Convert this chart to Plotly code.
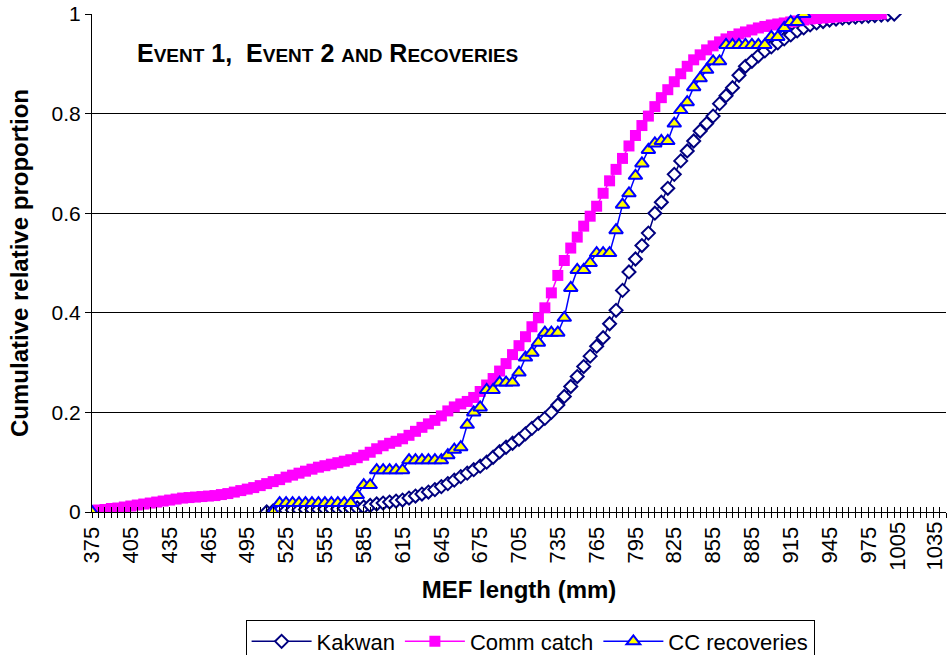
import plotly.graph_objects as go

# ---------------- data ----------------
categories = list(range(375, 1040, 5))  # MEF length categories (mm), 375..1035
tick_labels = ["375", "405", "435", "465", "495", "525", "555", "585", "615", "645",
               "675", "705", "735", "765", "795", "825", "855", "885", "915", "945",
               "975", "1005", "1035"]

kakwan_start = 510
kakwan = [0.000, 0.002, 0.003, 0.003, 0.004, 0.004, 0.005, 0.005, 0.005, 0.006,
          0.006, 0.006, 0.007, 0.007, 0.008, 0.010, 0.013, 0.016, 0.018, 0.020,
          0.022, 0.024, 0.028, 0.032, 0.036, 0.040, 0.045, 0.051, 0.057, 0.064,
          0.071, 0.078, 0.085, 0.092, 0.100, 0.110, 0.121, 0.130, 0.138, 0.146,
          0.157, 0.168, 0.178, 0.188, 0.200, 0.215, 0.232, 0.252, 0.272, 0.292,
          0.313, 0.333, 0.350, 0.378, 0.405, 0.445, 0.482, 0.508, 0.535, 0.560,
          0.600, 0.622, 0.650, 0.678, 0.705, 0.725, 0.745, 0.765, 0.780, 0.795,
          0.820, 0.836, 0.852, 0.877, 0.895, 0.905, 0.916, 0.926, 0.934, 0.942,
          0.950, 0.958, 0.966, 0.972, 0.978, 0.982, 0.985, 0.988, 0.990, 0.992,
          0.993, 0.994, 0.995, 0.996, 0.997, 0.998, 0.999, 1.000]

comm_start = 375
comm_catch = [0.002, 0.004, 0.005, 0.007, 0.008, 0.010, 0.012, 0.014, 0.016, 0.018,
              0.020, 0.022, 0.024, 0.026, 0.028, 0.029, 0.030, 0.031, 0.032, 0.033,
              0.035, 0.037, 0.040, 0.043, 0.046, 0.049, 0.053, 0.057, 0.061, 0.065,
              0.070, 0.074, 0.078, 0.082, 0.086, 0.090, 0.093, 0.096, 0.099, 0.102,
              0.105, 0.109, 0.114, 0.120, 0.127, 0.133, 0.138, 0.142, 0.147, 0.154,
              0.162, 0.170, 0.177, 0.184, 0.193, 0.203, 0.211, 0.217, 0.222, 0.230,
              0.242, 0.255, 0.268, 0.283, 0.298, 0.316, 0.334, 0.352, 0.372, 0.390,
              0.410, 0.440, 0.475, 0.505, 0.530, 0.552, 0.574, 0.594, 0.614, 0.640,
              0.665, 0.688, 0.710, 0.735, 0.756, 0.776, 0.795, 0.814, 0.832, 0.848,
              0.864, 0.880, 0.895, 0.908, 0.918, 0.928, 0.936, 0.944, 0.950, 0.955,
              0.960, 0.964, 0.968, 0.972, 0.975, 0.978, 0.980, 0.982, 0.984, 0.986,
              0.988, 0.990, 0.991, 0.992, 0.993, 0.994, 0.995, 0.996, 0.997, 0.998,
              0.999, 0.999, 1.000]

cc_start = 375
cc_recoveries = ([0.000] + [None] * 27 +
                 [0.000, 0.018, 0.018, 0.018, 0.018, 0.018, 0.018, 0.018, 0.018, 0.018,
                  0.018, 0.018, 0.018, 0.034, 0.054, 0.054, 0.084, 0.084, 0.084, 0.084,
                  0.084, 0.104, 0.104, 0.104, 0.104, 0.104, 0.104, 0.114, 0.125, 0.130,
                  0.175, 0.200, 0.210, 0.245, 0.245, 0.260, 0.260, 0.260, 0.280, 0.310,
                  0.320, 0.340, 0.360, 0.360, 0.360, 0.390, 0.450, 0.486, 0.486, 0.500,
                  0.520, 0.520, 0.520, 0.566, 0.617, 0.640, 0.675, 0.700, 0.727, 0.740,
                  0.745, 0.745, 0.780, 0.807, 0.823, 0.853, 0.871, 0.888, 0.905, 0.905,
                  0.938, 0.938, 0.938, 0.938, 0.938, 0.938, 0.938, 0.954, 0.954, 0.972,
                  0.984, 0.984, 1.000])


def xs_for(start, values):
    i0 = categories.index(start)
    return categories[i0:i0 + len(values)]


FONT = "Liberation Sans, Arial, sans-serif"

fig = go.Figure()
fig.add_trace(go.Scatter(
    x=xs_for(kakwan_start, kakwan), y=kakwan, name="Kakwan", mode="lines+markers",
    line=dict(color="#000080", width=1.5),
    marker=dict(symbol="diamond", size=10, color="white",
                line=dict(color="#000080", width=2))))
fig.add_trace(go.Scatter(
    x=xs_for(comm_start, comm_catch), y=comm_catch, name="Comm catch", mode="lines+markers",
    line=dict(color="#FF00FF", width=1.5),
    marker=dict(symbol="square", size=11, color="#FF00FF",
                line=dict(color="#FF00FF", width=0))))
fig.add_trace(go.Scatter(
    x=xs_for(cc_start, cc_recoveries), y=cc_recoveries, name="CC recoveries",
    mode="lines+markers", connectgaps=False,
    line=dict(color="#0000FF", width=1.5),
    marker=dict(symbol="triangle-up", size=12, color="#FFFF00",
                line=dict(color="#0000FF", width=2))))

main_labels = tick_labels[:-2]
shifted_labels = tick_labels[-2:]
tickvals = [int(t) for t in tick_labels]
ticktext = main_labels + ["", ""]

fig.update_layout(
    width=949, height=655,
    margin=dict(l=92, r=3, t=14, b=143, autoexpand=False),
    paper_bgcolor="white", plot_bgcolor="white",
    font=dict(family=FONT, size=21, color="black"),
    showlegend=True,
    legend=dict(orientation="h", x=0.513, xanchor="center", y=-0.216, yanchor="top",
                bordercolor="black", borderwidth=1, font=dict(size=22),
                itemwidth=60, tracegroupgap=0),
    xaxis=dict(range=[375, 1035], tickmode="array", tickvals=tickvals, ticktext=ticktext,
               tickangle=-90, ticks="outside", ticklen=5, tickcolor="black",
               showline=True, linecolor="black", linewidth=1, showgrid=False,
               zeroline=False, tickfont=dict(size=22), automargin=False,
               minor=dict(tickmode="linear", tick0=375, dtick=5, ticks="outside",
                          ticklen=5, tickcolor="black"),
               title=dict(text="<b>MEF length (mm)</b>", font=dict(size=24), standoff=18)),
    xaxis2=dict(range=[375, 1035], overlaying="x", anchor="y", side="bottom",
                tickmode="linear", tick0=375, dtick=5, ticks="inside", ticklen=5,
                tickcolor="black", showticklabels=False, showgrid=False, zeroline=False,
                showline=False, automargin=False),
    yaxis=dict(range=[0, 1], tickvals=[0, 0.2, 0.4, 0.6, 0.8, 1.0],
               ticktext=["0", "0.2", "0.4", "0.6", "0.8", "1"],
               ticks="outside", ticklen=6, tickcolor="black",
               showline=True, linecolor="black", linewidth=1,
               showgrid=True, gridcolor="black", gridwidth=1, zeroline=False,
               tickfont=dict(size=21), automargin=False,
               title=dict(text="<b>Cumulative relative proportion</b>", font=dict(size=24),
                          standoff=16)),
)

# invisible trace to activate the overlay axis (inside tick marks)
fig.add_trace(go.Scatter(x=[375], y=[0], xaxis="x2", mode="markers",
                         marker=dict(opacity=0), showlegend=False, hoverinfo="skip"))

small = "font-size:19px"
title = ("<b>E<span style='%s'>VENT</span> 1,&nbsp; E<span style='%s'>VENT</span> 2 "
         "<span style='%s'>AND</span> R<span style='%s'>ECOVERIES</span></b>") % (small, small, small, small)
fig.add_annotation(text=title, xref="paper", yref="paper", x=0.0503, y=0.9217,
                   xanchor="left", yanchor="middle", showarrow=False,
                   font=dict(family=FONT, size=25, color="black"))

for lab, shift in zip(shifted_labels, [-10, -12]):
    fig.add_annotation(text=lab, x=int(lab), xref="x", y=-0.016, yref="paper",
                       xanchor="center", yanchor="top", textangle=-90, showarrow=False,
                       xshift=shift, font=dict(family=FONT, size=22, color="black"))

fig.write_html("out.html")
